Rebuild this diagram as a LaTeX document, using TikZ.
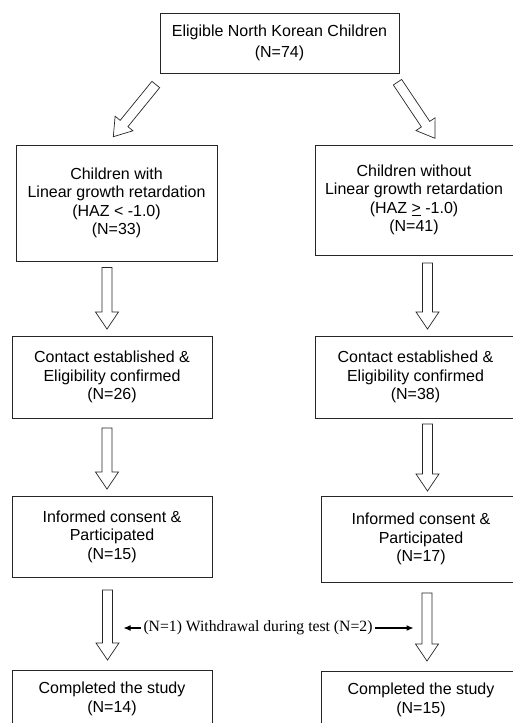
\documentclass[tikz,border=0pt]{standalone}
\usepackage{fontspec}
\setmainfont{Liberation Sans}
\newfontfamily\tmsfont{Liberation Serif}
\usetikzlibrary{calc,arrows.meta}
\tikzset{
  box/.style={draw=black!85, line width=0.8pt, align=center, inner sep=0pt,
    font=\fontsize{16}{18.4}\selectfont},
  blk/.style={draw=black!85, line width=0.7pt, fill=white, line join=miter},
  wdarrow/.style={-{Latex[length=7pt,width=6pt]}, line width=1.1pt},
}
\newcommand\blockarrow[2]{%
  \path ($(#2)!17pt!(#1)$) coordinate (bah);
  \draw[blk] ($(#1)!5pt!90:(#2)$) -- ($(bah)!5pt!90:(#2)$) -- ($(bah)!11.5pt!90:(#2)$)
    -- (#2) -- ($(bah)!11.5pt!-90:(#2)$) -- ($(bah)!5pt!-90:(#2)$)
    -- ($(#1)!5pt!-90:(#2)$) -- cycle;}
\begin{document}
\begin{tikzpicture}[x=1pt,y=-1pt]
\useasboundingbox (0,0) rectangle (512,723);
% boxes
\node[box, minimum width=239pt, minimum height=60pt, font=\fontsize{16}{21.5}\selectfont] (top) at (279.5,43)
  {Eligible North Korean Children\\(N=74)};
\node[box, minimum width=201pt, minimum height=116pt] (l2) at (116.5,203)
  {Children with\\Linear growth retardation\\(HAZ < -1.0)\\(N=33)};
\node[box, minimum width=198pt, minimum height=110pt] (r2) at (414,200)
  {Children without\\Linear growth retardation\\(HAZ \underline{>} -1.0)\\(N=41)};
\node[box, minimum width=200pt, minimum height=82pt] (l3) at (112,377)
  {Contact established \&\\Eligibility confirmed\\(N=26)};
\node[box, minimum width=201pt, minimum height=82pt] (r3) at (415.5,377)
  {Contact established \&\\Eligibility confirmed\\(N=38)};
\node[box, minimum width=200pt, minimum height=81pt] (l4) at (112,536.5)
  {Informed consent \&\\Participated\\(N=15)};
\node[box, minimum width=200pt, minimum height=86pt] (r4) at (421,539)
  {Informed consent \&\\Participated\\(N=17)};
\node[box, minimum width=200pt, minimum height=58pt] (l5) at (112,699)
  {Completed the study\\(N=14)};
\node[box, minimum width=200pt, minimum height=58pt] (r5) at (421,700)
  {Completed the study\\(N=15)};
% arrow endpoints
\coordinate (d1s) at (155.8,84.5);  \coordinate (d1e) at (113.3,136.7);
\coordinate (d2s) at (397.5,82.2);  \coordinate (d2e) at (435,138.3);
\coordinate (v1ls) at (107,267.5);  \coordinate (v1le) at (107,329);
\coordinate (v1rs) at (427.5,263);  \coordinate (v1re) at (427.5,329);
\coordinate (v2ls) at (107,428);    \coordinate (v2le) at (107,489);
\coordinate (v2rs) at (427.5,424);  \coordinate (v2re) at (427.5,491);
\coordinate (v3ls) at (107.5,590);  \coordinate (v3le) at (107.5,660);
\coordinate (v3rs) at (427,593);    \coordinate (v3re) at (427,661);
\blockarrow{d1s}{d1e}
\blockarrow{d2s}{d2e}
\blockarrow{v1ls}{v1le}
\blockarrow{v1rs}{v1re}
\blockarrow{v2ls}{v2le}
\blockarrow{v2rs}{v2re}
\blockarrow{v3ls}{v3le}
\blockarrow{v3rs}{v3re}
% withdrawal
\node[inner sep=2pt, font=\tmsfont\fontsize{15.7}{18}\selectfont] (wd) at (258,628)
  {(N=1) Withdrawal during test (N=2)};
\coordinate (wl) at (123.5,628);
\coordinate (wr) at (413.5,628);
\draw[wdarrow] (wd.west) -- (wl);
\draw[wdarrow] (wd.east) -- (wr);
\end{tikzpicture}
\end{document}
